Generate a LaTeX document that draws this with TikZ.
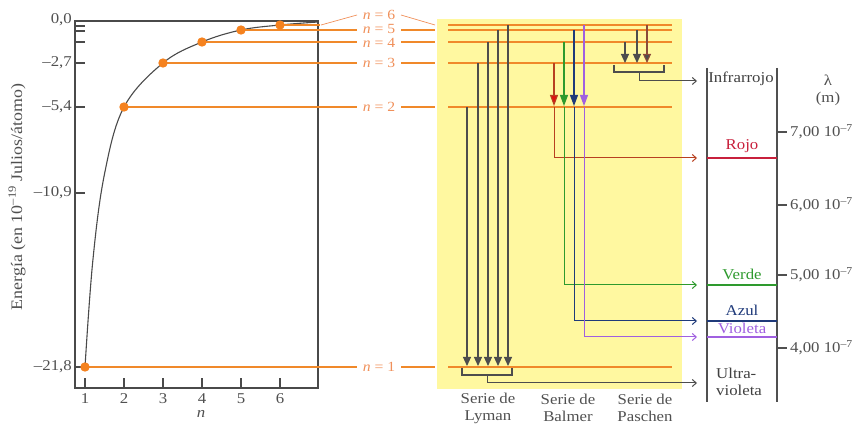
\documentclass[tikz,border=0pt]{standalone}
\usepackage{fontspec}
\setmainfont{Liberation Serif}[FakeStretch=1.12]
\usetikzlibrary{arrows.meta}
\definecolor{txt}{HTML}{505050}
\definecolor{axisc}{HTML}{4A4A4A}
\definecolor{lev}{HTML}{F0892A}
\definecolor{dotc}{HTML}{F5821F}
\definecolor{nlab}{HTML}{F0905A}
\definecolor{ybg}{HTML}{FFF8A0}
\definecolor{redL}{HTML}{B84020}
\definecolor{redH}{HTML}{E01010}
\definecolor{rojo}{HTML}{C8203C}
\definecolor{verde}{HTML}{2E9A2E}
\definecolor{azul}{HTML}{1F3A7A}
\definecolor{viol}{HTML}{A060E0}
\definecolor{arr}{HTML}{4D4D4D}
\definecolor{brn}{HTML}{8B4A3A}
\tikzset{
  lvl/.style={lev, line width=1.1pt},
  tran/.style={arr, line width=1.1pt, -{Triangle[width=8pt,length=9pt]}},
  outarr/.style={line width=1pt, -{Straight Barb[length=4pt,width=7pt]}},
  lbl/.style={text=txt, font=\fontsize{15}{17}\selectfont, inner sep=0pt},
  nlbl/.style={text=nlab, font=\fontsize{14}{16}\selectfont, inner sep=0pt},
}
\begin{document}
\begin{tikzpicture}[x=1pt,y=-1pt]
\useasboundingbox (0,0) rectangle (865,427);
% ---------- left plot ----------
\draw[axisc, line width=1.1pt] (75,21) rectangle (318,388);
\foreach \y in {21,26,31,42,63,107,193,367} \draw[axisc, line width=1.1pt] (75,\y) -- (85,\y);
\node[lbl, anchor=east] (t0) at (72,20) {0,0};
\node[lbl, anchor=east] (t1) at (72,63) {–2,7};
\node[lbl, anchor=east] (t2) at (72,107) {–5,4};
\node[lbl, anchor=east] (t3) at (72,193) {–10,9};
\node[lbl, anchor=east] (t4) at (72,367) {–21,8};
\foreach \i in {1,...,6} {
  \pgfmathsetmacro\xx{85+39*(\i-1)}
  \draw[axisc, line width=1.1pt] (\xx,388) -- (\xx,378);
  \node[lbl] (xl\i) at (\xx,399) {\i};
}
\node[lbl, font=\fontsize{15}{17}\selectfont\itshape] (nax) at (201,414) {n};
\node[lbl, rotate=90, font=\fontsize{16}{18}\selectfont] (ylab) at (17,197) {Energía (en 10\textsuperscript{–19} Julios/átomo)};
% curve
\draw[axisc, line width=1.1pt] plot[smooth, tension=0.6] coordinates {(85,367) (92.8,261) (104.5,174) (124,107) (163,63) (202,42) (241,30) (280,25) (318,22)};
% level lines left
\foreach \xd/\y in {85/367,124/107,163/63,202/42,241/30} \draw[lvl] (\xd,\y) -- (357,\y);
\draw[lvl] (280,25) -- (320,25);
\draw[nlab, line width=0.7pt] (321,25) -- (357,15);
\draw[nlab, line width=0.7pt] (401,15) -- (435,25);
\foreach \xd/\y in {85/367,124/107,163/63,202/42,241/30,280/25} \fill[dotc] (\xd,\y) circle (4.7);
% labels n = k
\foreach \k/\y in {1/367,2/107,3/63,4/43,5/29,6/15} \node[nlbl] (nl\k) at (379,\y) {\textit{n} = \k};
\foreach \y in {367,107,63,42,30} \draw[lvl] (401,\y) -- (435,\y);
% ---------- yellow diagram ----------
\fill[ybg] (437,19) rectangle (682,389);
\foreach \y in {367,107,63,42,30,25} \draw[lvl] (448,\y) -- (672,\y);
% Lyman
\draw[tran] (467,107) -- (467,366);
\draw[tran] (478,63) -- (478,366);
\draw[tran] (488,42) -- (488,366);
\draw[tran] (498,30) -- (498,366);
\draw[tran] (508,25) -- (508,366);
\draw[arr, line width=1.1pt] (462,368) -- (462,375) -- (512,375) -- (512,368);
\coordinate (lyE) at (697,383);
\draw[arr, outarr] (487,375) -- (487,383) -- (lyE);
% Balmer
\draw[redL, line width=1.1pt, -{Triangle[width=8pt,length=11pt, fill=redH]}] (554,63) -- (554,106);
\draw[verde, line width=1.1pt, -{Triangle[width=8pt,length=11pt]}] (564,42) -- (564,106);
\draw[azul, line width=1.1pt, -{Triangle[width=8pt,length=11pt]}] (574,30) -- (574,106);
\draw[viol, line width=1.1pt, -{Triangle[width=8pt,length=11pt]}] (584,25) -- (584,106);
\coordinate (rE) at (697,158);
\coordinate (gE) at (697,285);
\coordinate (bE) at (697,321);
\coordinate (vE) at (697,337);
\draw[redL, outarr] (554,107) -- (554,158) -- (rE);
\draw[verde, outarr] (564,107) -- (564,285) -- (gE);
\draw[azul, outarr] (574,107) -- (574,321) -- (bE);
\draw[viol, outarr] (584,107) -- (584,337) -- (vE);
% Paschen
\draw[tran] (625,42) -- (625,63);
\draw[tran] (637,30) -- (637,63);
\draw[brn, line width=1.1pt, -{Triangle[width=8pt,length=9pt, fill=arr]}] (647,25) -- (647,63);
\draw[arr, line width=1.1pt] (614,65) -- (614,72) -- (664,72) -- (664,65);
\coordinate (paE) at (697,81);
\draw[arr, outarr] (639,72) -- (639,81) -- (paE);
% series labels
\node[lbl, align=center] (sly) at (488,408) {Serie de\\Lyman};
\node[lbl, align=center] (sba) at (568,408) {Serie de\\Balmer};
\node[lbl, align=center] (spa) at (645,408) {Serie de\\Paschen};
% ---------- spectrum panel ----------
\draw[txt, line width=1.1pt] (707,68) -- (707,402);
\draw[txt, line width=1.1pt] (777,68) -- (777,402);
\draw[rojo, line width=1.1pt] (707,158) -- (777,158);
\draw[verde, line width=1.1pt] (707,285) -- (777,285);
\draw[azul, line width=1.1pt] (707,321) -- (777,321);
\draw[viol, line width=1.1pt] (707,337) -- (777,337);
\node[lbl, text=black!75] (ir) at (741,79) {Infrarrojo};
\node[lbl, text=rojo] (roj) at (742,146) {Rojo};
\node[lbl, text=verde] (ver) at (742,274) {Verde};
\node[lbl, text=azul] (azu) at (742,310) {Azul};
\node[lbl, text=viol] (vio) at (742,328) {Violeta};
\node[lbl, text=black!75, align=left, anchor=west] (uv) at (716,382) {Ultra-\\violeta};
\node[lbl] (lam) at (828,80) {λ};
\node[lbl] (lamm) at (828,99) {(m)};
\foreach \y/\v in {132/7,205/6,275/5,348/4} {
  \draw[txt, line width=1.1pt] (777,\y) -- (787,\y);
  \node[lbl, anchor=west] (w\v) at (790,\y) {\v,00 10\textsuperscript{–7}};
}
\end{tikzpicture}
\end{document}
